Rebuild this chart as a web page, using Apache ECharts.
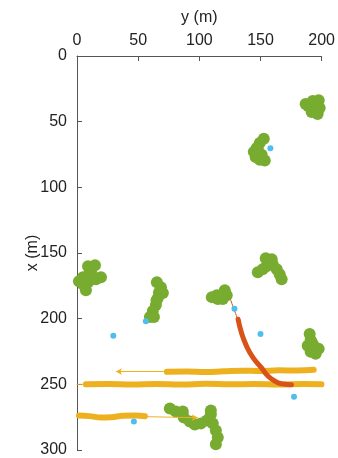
<!DOCTYPE html>
<html>
<head>
<meta charset="utf-8">
<script src="https://cdn.jsdelivr.net/npm/echarts@6/dist/echarts.min.js"></script>
<style>
  html, body { margin: 0; padding: 0; background: #fff; }
  #chart { width: 338px; height: 458px; }
</style>
</head>
<body>
<div id="chart"></div>
<script>
// 每个点为 [y (m), x (m)]
const yTicks = [0, 50, 100, 150, 200]
const xTicks = [0, 50, 100, 150, 200, 250, 300]

// 绿色簇
const green1 = [[186.9, 36.6], [192.7, 34.3], [197.6, 33.6], [198.4, 39.6], [192.7, 39.6], [189, 38.1], [196.7, 44.2], [191.8, 42.7], [195, 38], [194, 42]]
const green2 = [[152.7, 63], [149.4, 66.2], [146.9, 70], [144.5, 73], [146.1, 77], [149.4, 79], [151, 75.2], [153.5, 79.6], [148, 72], [149, 76]]
const green3 = [[9, 160], [14.7, 159.3], [10.6, 164], [4.9, 168.4], [1.6, 171.5], [9, 172.2], [15.5, 170], [19.6, 168.4], [7.3, 178.3], [12, 166], [8, 168], [5, 174], [12, 170]]
const green4 = [[65.3, 172.2], [68.6, 176], [70.2, 180.5], [66.1, 184.3], [64.5, 189.6], [62, 194.2], [59.6, 198.7], [62.9, 198.7], [67, 180], [65, 186]]
const green5 = [[110.2, 183.6], [114.3, 182.1], [118.4, 182.1], [120.8, 178.3], [122.4, 182.1], [115.1, 185.1], [119.2, 185.1], [117, 183]]
const green6 = [[154.3, 154], [159.2, 154.8], [156.7, 158.6], [151.8, 162.4], [147.8, 164.6], [163.3, 162.4], [165.7, 166.2], [167.3, 170], [160, 158.5], [155, 160]]
const green7 = [[190.2, 211.6], [191, 216.2], [188.6, 220.7], [193.5, 220.7], [197.6, 223], [191, 225.2], [195.1, 226.8], [192, 218], [193, 223]]
const green8 = [[75.9, 268.4], [80.8, 270.7], [86.5, 270.7], [87.3, 275.2], [92.2, 278.3], [96.3, 280.5], [101.2, 279.8], [106.1, 277.5], [109.4, 273], [109.4, 270], [111, 279.8], [113.5, 285.1], [115.1, 290.4], [113.5, 295.7]]

// 蓝色点
const bluePoints = [[158.1, 70.2], [29.7, 213], [56.3, 202], [128.7, 192.5], [150, 211.7], [177.4, 259.5], [46.5, 278.3]]

// 红色轨迹
const redThin = [[123.3, 180], [131.4, 200.5]]
const redThick = [[131.7, 200.5], [134.4, 210.5], [138.5, 220.7], [143.9, 229.7], [150.7, 237.3], [156.1, 243.7], [163, 248.3], [169, 249.8], [175.3, 250.3]]

// 黄色轨迹
const yellowA = [[73.5, 240.5], [90, 240.2], [105, 240.6], [120, 240], [135, 239.6], [150, 239.9], [165, 239.3], [180, 239.5], [193.5, 238.9]]
const yellowAThin = [[73.5, 240.3], [31.8, 240.3]]
const yellowB = [[7.3, 250], [25, 249.7], [45, 250.2], [65, 249.8], [85, 250.1], [105, 249.6], [125, 250], [145, 249.7], [165, 250.1], [185, 249.8], [199.8, 250]]
const yellowBThin = [[0, 250], [7.3, 250]]
const yellowC = [[1.6, 273.8], [10, 274.2], [20, 275.3], [28, 275], [38, 274], [48, 273.8], [55.5, 274.3]]
const yellowCThin = [[55.5, 274.6], [98.8, 275.4]]

const GREEN = '#77AC30'
const BLUE = '#4DBEEE'
const RED = '#D95319'
const YELLOW = '#EDB120'
const FONT = 'Liberation Sans'

const greenAll = [].concat(green1, green2, green3, green4, green5, green6, green7, green8)

function thickLine(data, color, width) {
  return {
    type: 'line', data, symbol: 'none', smooth: true,
    lineStyle: { color, width, cap: 'round', join: 'round' },
    z: 3,
  }
}

function arrowLine(data, color) {
  return {
    type: 'line', data: [], symbol: 'none',
    markLine: {
      silent: true, symbol: ['none', 'arrow'], symbolSize: [5, 6],
      label: { show: false },
      lineStyle: { color, width: 1, type: 'solid' },
      data: [[{ coord: data[0] }, { coord: data[1] }]],
    },
  }
}

const chart = echarts.init(document.getElementById('chart'), null, { renderer: 'canvas' })

const axisCommon = {
  type: 'value',
  nameLocation: 'middle',
  nameMoveOverlap: false,
  nameTextStyle: { fontFamily: FONT, fontSize: 16, color: '#222' },
  axisLine: { show: true, lineStyle: { color: '#555', width: 1 } },
  axisTick: { show: true, inside: true, length: 5, lineStyle: { color: '#555' } },
  axisLabel: { fontFamily: FONT, fontSize: 16, color: '#222' },
  splitLine: { show: false },
}

chart.setOption({
  animation: false,
  grid: { left: 77, top: 56, right: 16, bottom: 7 },
  xAxis: Object.assign({}, axisCommon, {
    position: 'top', min: yTicks[0], max: yTicks[yTicks.length - 1], interval: 50,
    name: 'y (m)', nameGap: 30,
    axisLabel: Object.assign({}, axisCommon.axisLabel, { margin: 7 }),
  }),
  yAxis: Object.assign({}, axisCommon, {
    inverse: true, min: xTicks[0], max: xTicks[xTicks.length - 1], interval: 50,
    name: 'x (m)', nameGap: 36,
    axisLabel: Object.assign({}, axisCommon.axisLabel, { margin: 10 }),
  }),
  series: [
    arrowLine(yellowAThin, YELLOW),
    arrowLine(yellowCThin, YELLOW),
    thickLine(yellowBThin, YELLOW, 1),
    thickLine(yellowA, YELLOW, 6),
    thickLine(yellowB, YELLOW, 6),
    thickLine(yellowC, YELLOW, 6),
    thickLine(redThin, RED, 1),
    thickLine(redThick, RED, 5),
    {
      type: 'scatter', data: greenAll, symbolSize: 12,
      itemStyle: { color: GREEN, opacity: 1 }, z: 4,
    },
    {
      type: 'scatter', data: bluePoints, symbolSize: 6,
      itemStyle: { color: BLUE, opacity: 1 }, z: 5,
    },
  ],
})
</script>
</body>
</html>
